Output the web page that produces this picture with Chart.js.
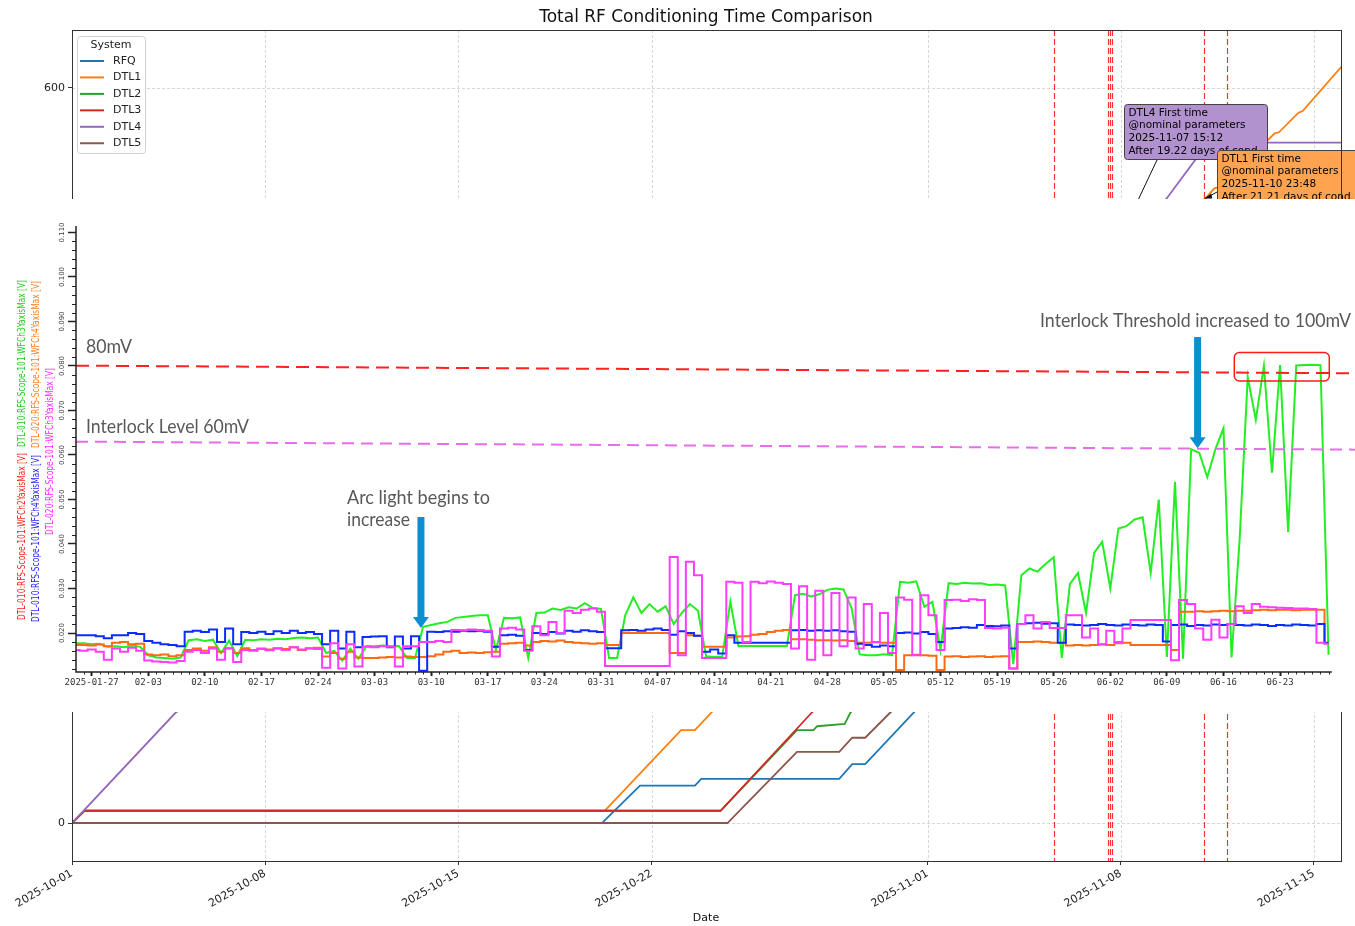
<!DOCTYPE html>
<html>
<head>
<meta charset="utf-8">
<title>Total RF Conditioning Time Comparison</title>
<script src="https://cdn.jsdelivr.net/npm/chart.js@4.4.1/dist/chart.umd.min.js"></script>
<style>
  html, body { margin: 0; padding: 0; background: #fff; }
  #wrap { position: relative; width: 1355px; height: 926px; overflow: hidden; }
  #outer { position: absolute; left: 0; top: 0; }
  #insetBox { position: absolute; left: 0; top: 199px; width: 1355px; height: 513px; background: #fff; }
</style>
</head>
<body>
<div id="wrap">
  <canvas id="outer" width="1355" height="926"></canvas>
  <div id="insetBox"><canvas id="inset" width="1355" height="513"></canvas></div>
</div>
<script>
/* ===== OUTER CHART DATA (days since 2025-10-01, conditioning hours) ===== */
const systems = ["RFQ", "DTL1", "DTL2", "DTL3", "DTL4", "DTL5"];
const systemColors = ["#1f77b4", "#ff7f0e", "#2ca02c", "#d62728", "#9467bd", "#8c564b"];

const rfqDays   = [0, 19.2, 20.58, 22.57, 22.8, 27.8, 28.27, 28.74, 32.5, 36, 40, 46];
const rfqHours  = [0, 0, 30.5, 30.5, 36, 36, 48, 48, 138, 190, 260, 330];
const dtl1Days  = [0, 0.45, 19.3, 22.07, 22.57, 26.5, 30, 34, 37.5, 40.99, 41.08, 41.39, 41.63, 42.33, 43.58, 43.73, 44.44, 44.59, 46.0];
const dtl1Hours = [0, 10, 10, 75.9, 75.9, 170, 250, 340, 420, 509, 510, 518, 519.4, 535.8, 563, 563.8, 579.8, 581.2, 617.4];
const dtl2Days  = [0, 0.45, 23.5, 26.27, 26.87, 27.0, 28.0, 28.2, 33, 40, 46];
const dtl2Hours = [0, 10, 10, 75.9, 75.9, 79, 81, 90, 200, 330, 420];
const dtl3Days  = [0, 0.45, 23.5, 26.8, 32, 38, 46];
const dtl3Hours = [0, 10, 10, 90, 210, 330, 450];
const dtl4Days  = [0, 3.75, 8, 15, 22, 30, 37.63, 39.67, 41.16, 46];
const dtl4Hours = [0, 90, 150, 230, 300, 380, 461, 510, 555.3, 555.3];
const dtl5Days  = [0, 23.75, 26.27, 27.8, 28.27, 28.74, 29.64, 35, 46];
const dtl5Hours = [0, 0, 58, 58, 69.6, 69.6, 90, 200, 380];

const outerDays  = [rfqDays, dtl1Days, dtl2Days, dtl3Days, dtl4Days, dtl5Days];
const outerHours = [rfqHours, dtl1Hours, dtl2Hours, dtl3Hours, dtl4Hours, dtl5Hours];

const outerTickDays  = [0, 7, 14, 21, 31, 38, 45];
const outerTickHours = [0, 200, 400, 600];
const markerDays     = [35.58, 37.55, 37.61, 37.67, 41.03, 41.86];

const noteDTL4 = ["DTL4 First time", "@nominal parameters", "2025-11-07 15:12", "After 19.22 days of cond."];
const noteDTL1 = ["DTL1 First time", "@nominal parameters", "2025-11-10 23:48", "After 21.21 days of cond."];
const notePoints = [[37.63, 461], [40.99, 509]];   // DTL4, DTL1
const noteBoxes  = [[38.12, 587], [41.49, 549.4]]; // box top-left (day, hours)

/* ===== INSET DATA (days since 2025-01-27, mV) ===== */
const insetDays = Array.from({ length: 156 }, (_, i) => i - 2);

const wfGreen = [
  17.7, 17.7, 17.5, 17.6, 16.9, 17.0, 16.8,
  17.2, 16.9, 15.0, 14.5, 14.4, 14.2, 14.5,
  18.4, 18.6, 18.2, 18.5, 15.5, 18.3, 14.8,
  18.5, 18.4, 18.6, 18.5, 18.7, 18.6, 18.9,
  19.0, 18.8, 19.0, 15.5, 16.0, 13.8, 16.5,
  14.2, 17.1, 17.0, 17.2, 17.0, 17.1, 14.4,
  14.4, 21.4, 21.8, 22.2, 22.5, 23.4, 23.6,
  23.8, 24.0, 24.0, 16.2, 23.4, 23.3, 23.5,
  14.4, 24.5, 24.6, 25.5, 25.2, 25.8, 25.5,
  26.7, 25.6, 25.4, 14.4, 14.4, 24.0, 28.0,
  24.5, 26.5, 24.8, 26.0, 22.0, 24.5, 26.5,
  25.0, 14.8, 14.6, 14.7, 27.0, 17.1, 17.1,
  17.1, 17.1, 17.1, 17.1, 17.1, 28.5, 28.8,
  28.2, 28.7, 29.7, 30.0, 29.8, 25.6, 15.2,
  15.0, 15.0, 15.2, 15.0, 31.5, 31.3, 31.6,
  25.9, 27.0, 16.2, 31.2, 31.0, 31.3, 31.1,
  31.2, 30.8, 30.9, 30.7, 13.0, 33.0, 34.5,
  33.8, 35.5, 37.0, 14.4, 31.0, 33.5, 24.5,
  38.0, 40.5, 30.0, 43.5, 44.0, 45.5, 46.0,
  33.5, 50.0, 14.6, 54.0, 14.2, 61.3, 60.5,
  55.0, 61.3, 66.0, 14.5, 41.0, 77.5, 67.9,
  80.0, 56.0, 80.2, 42.7, 80.1, 80.2, 80.3,
  80.2, 15.1
];
const wfBlue = [
  19.5, 19.5, 19.5, 19.3, 18.8, 19.5, 19.5,
  20.0, 19.8, 18.2, 17.8, 17.5, 17.3, 17.0,
  20.3, 20.5, 20.2, 20.8, 18.0, 21.0, 17.5,
  20.2, 20.0, 20.3, 19.8, 20.4, 20.0, 20.5,
  20.0, 20.2, 19.8, 17.5, 20.5, 16.5, 20.3,
  16.8, 19.1, 19.2, 19.3, 16.8, 19.2, 16.5,
  19.3, 11.5, 20.3, 20.2, 20.4, 20.3, 20.5,
  20.4, 20.5, 20.3, 16.9, 19.5, 19.6, 19.4,
  16.2, 20.0, 19.8, 20.2, 19.9, 20.5, 20.3,
  20.6, 20.4, 20.2, 16.6, 16.6, 20.6, 20.7,
  20.5, 20.8, 21.0, 20.7, 19.6, 20.4, 20.0,
  19.4, 15.8, 16.3, 15.4, 19.5, 17.8, 17.8,
  17.8, 17.8, 17.8, 17.8, 17.8, 20.6, 20.7,
  20.5, 20.6, 20.5, 20.6, 20.4, 20.3, 17.6,
  17.3, 16.9, 17.2, 17.0, 20.0, 20.1, 19.9,
  20.2, 19.8, 18.0, 21.0, 21.1, 21.3, 21.2,
  21.8, 21.6, 21.5, 21.7, 16.5, 22.0, 22.2,
  22.3, 22.1, 22.2, 17.8, 21.9, 21.8, 21.7,
  21.8, 22.0, 21.8, 21.7, 21.9, 21.8, 21.7,
  21.9, 21.8, 18.1, 21.8, 21.9, 21.6, 21.8,
  21.7, 21.9, 21.8, 22.0, 21.8, 21.7, 21.9,
  21.8, 21.6, 21.8, 21.7, 21.9, 21.8, 21.7,
  22.0, 17.8
];
const wfOrange = [
  17.3, 17.3, 17.2, 17.4, 17.0, 17.8, 18.0,
  17.5, 17.6, 15.2, 15.0, 15.2, 14.8, 15.0,
  16.2, 16.5, 16.0, 16.8, 15.8, 16.5, 15.5,
  16.6, 16.2, 16.5, 16.3, 16.6, 16.4, 16.8,
  16.2, 16.5, 16.7, 14.7, 15.5, 14.2, 15.8,
  14.5, 14.4, 14.4, 14.5, 14.6, 14.5, 14.7,
  14.6, 14.6, 14.8, 15.2, 15.8, 16.0, 15.5,
  15.6, 15.5, 15.7, 15.8, 17.6, 17.7, 17.8,
  17.2, 18.0, 18.2, 18.1, 18.3, 18.0, 17.8,
  17.7, 17.6, 17.7, 17.3, 17.3, 20.0, 20.0,
  20.0, 20.0, 20.0, 20.0, 15.5, 15.5, 19.5,
  19.4, 16.9, 16.9, 16.9, 19.0, 19.2, 19.3,
  19.6, 19.8, 20.2, 20.5, 20.7, 18.6, 18.6,
  18.5, 18.4, 18.4, 18.3, 18.4, 18.2, 17.8,
  17.8, 17.9, 17.8, 17.8, 11.7, 15.0, 15.1,
  15.0, 14.9, 11.7, 14.7, 14.8, 14.6, 14.7,
  14.8, 14.6, 14.7, 14.8, 12.0, 18.0, 18.0,
  18.1, 18.0, 17.8, 17.8, 17.2, 17.3, 17.2,
  17.3, 17.4, 17.3, 17.7, 17.8, 17.3, 17.3,
  17.3, 17.3, 17.3, 16.2, 24.8, 24.8, 24.9,
  24.8, 24.9, 25.0, 24.9, 25.0, 25.0, 25.1,
  25.2, 25.1, 25.2, 25.2, 25.1, 25.2, 25.2,
  25.2, 17.7
];
const wfMagenta = [
  16.2, 16.0, 16.3, 15.8, 14.0, 16.5, 15.8,
  16.7, 16.0, 13.8, 13.6, 13.5, 13.4, 13.7,
  15.8, 16.2, 15.5, 16.5, 14.0, 16.6, 13.5,
  16.2, 16.0, 16.4, 16.1, 16.5, 16.2, 16.8,
  16.3, 16.6, 16.4, 12.2, 17.7, 12.0, 17.5,
  12.5, 16.9, 16.8, 17.0, 16.9, 12.5, 17.0,
  17.0, 18.0, 18.0, 18.2, 18.0, 20.7, 20.6,
  20.8, 20.7, 20.5, 14.7, 21.0, 21.2, 20.8,
  16.0, 21.5, 19.5, 22.5, 20.0, 25.0, 24.5,
  25.2, 25.5, 24.8, 12.6, 12.6, 12.6, 12.6,
  12.6, 12.6, 12.6, 12.6, 37.1, 15.0, 36.0,
  33.0, 14.4, 14.4, 14.4, 31.5, 31.3, 18.0,
  31.5, 31.2, 31.6, 31.3, 31.0, 16.5, 30.5,
  14.0, 29.5, 15.0, 29.0, 17.0, 28.0, 16.5,
  26.5, 18.0, 24.5, 15.5, 28.0, 27.5, 15.0,
  28.5, 24.0, 16.2, 27.4, 27.5, 27.2, 27.6,
  27.4, 21.1, 21.0, 21.2, 12.0, 22.0, 24.0,
  21.0, 22.5, 21.1, 21.1, 24.0, 24.0, 19.0,
  21.0, 17.5, 20.5, 18.0, 21.0, 22.9, 22.9,
  22.9, 22.9, 22.9, 13.9, 27.4, 26.5, 21.0,
  18.5, 23.0, 19.0, 22.0, 26.0, 24.5, 26.5,
  25.9, 25.8, 25.7, 25.6, 25.5, 25.5, 25.4,
  17.8, 17.6
];

const insetRange   = [-1.94, 156.27];  // visible day span
const insetDataEnd = 153.4;
const level80      = [80.07, 78.36];   // drawn red dashed line, ends of span
const level60      = [63.0, 61.2];     // drawn violet dashed line
const insetTickDays = [0, 7, 14, 21, 28, 35, 42, 49, 56, 63, 70, 77, 84, 91, 98, 105, 112, 119, 126, 133, 140, 147];
const insetTickMv   = [20, 30, 40, 50, 60, 70, 80, 90, 100, 110];
const arrowDays = [40.73, 136.8];
const arrowFrom = [46.07, 86.5];
const arrowTo   = [21.1, 61.5];
const redBoxDays = [141.34, 153.09];
const redBoxMv   = [83.0, 76.63];

const insetTitles = [
  ["DTL-010:RFS-Scope-101:WFCh2YaxisMax [V]", "#ff1f1f", 22, 421],
  ["DTL-010:RFS-Scope-101:WFCh3YaxisMax [V]", "#22cc22", 22, 248],
  ["DTL-010:RFS-Scope-101:WFCh4YaxisMax [V]", "#1f1fff", 36, 423],
  ["DTL-020:RFS-Scope-101:WFCh4YaxisMax [V]", "#ff7f1f", 36, 249],
  ["DTL-020:RFS-Scope-101:WFCh3YaxisMax [V]", "#ff2bff", 50, 336]
];

/* ===== HELPERS ===== */
function dateLabel(base, v, full) {
  const s = new Date(base + v * 86400000).toISOString();
  return full ? s.slice(0, 10) : s.slice(5, 10);
}

function roundBox(ctx, x, y, w, h, r) {
  ctx.beginPath();
  ctx.moveTo(x + r, y);
  ctx.lineTo(x + w - r, y);
  ctx.arcTo(x + w, y, x + w, y + r, r);
  ctx.lineTo(x + w, y + h - r);
  ctx.arcTo(x + w, y + h, x + w - r, y + h, r);
  ctx.lineTo(x + r, y + h);
  ctx.arcTo(x, y + h, x, y + h - r, r);
  ctx.lineTo(x, y + r);
  ctx.arcTo(x, y, x + r, y, r);
  ctx.closePath();
}

function hline(ctx, x0, y0, x1, y1) {
  ctx.beginPath();
  ctx.moveTo(x0, y0);
  ctx.lineTo(x1, y1);
  ctx.stroke();
}

Chart.defaults.font.family = '"DejaVu Sans", sans-serif';

/* ===== OUTER DECORATIONS ===== */
const outerDecor = {
  id: "outerDecor",
  beforeDatasetsDraw(chart) {
    const { ctx, chartArea: a, scales: { x, y } } = chart;
    ctx.save();
    ctx.strokeStyle = "rgba(170,170,170,0.6)";
    ctx.lineWidth = 0.8;
    ctx.setLineDash([3, 2]);
    outerTickDays.forEach(d => {
      const px = Math.round(x.getPixelForValue(d)) + 0.5;
      hline(ctx, px, a.top, px, a.bottom);
    });
    outerTickHours.forEach(h => {
      const py = Math.round(y.getPixelForValue(h)) + 0.5;
      hline(ctx, a.left, py, a.right, py);
    });
    ctx.restore();
  },
  afterDatasetsDraw(chart) {
    const { ctx, chartArea: a, scales: { x, y } } = chart;
    ctx.save();

    // first-time markers
    ctx.strokeStyle = "rgba(255,0,0,0.8)";
    ctx.lineWidth = 1.2;
    ctx.setLineDash([6, 3]);
    markerDays.forEach(d => {
      const px = Math.round(x.getPixelForValue(d)) + 0.5;
      hline(ctx, px, a.top, px, a.bottom);
    });
    ctx.setLineDash([]);

    // annotation arrows
    ctx.strokeStyle = "#111";
    ctx.lineWidth = 1;
    const p4 = [x.getPixelForValue(notePoints[0][0]), y.getPixelForValue(notePoints[0][1])];
    hline(ctx, 1157, 160, p4[0], p4[1]);
    const p1 = [x.getPixelForValue(notePoints[1][0]), y.getPixelForValue(notePoints[1][1])];
    hline(ctx, 1217, 192, p1[0] + 2, p1[1] - 1);
    ctx.fillStyle = "#111";
    ctx.beginPath();
    ctx.moveTo(p1[0] + 1, p1[1] - 1);
    ctx.lineTo(p1[0] + 8, p1[1] - 6);
    ctx.lineTo(p1[0] + 9, p1[1] - 1);
    ctx.closePath();
    ctx.fill();

    // annotation boxes
    const boxes = [
      [noteDTL4, "rgba(148,103,189,0.72)", 143, 55],
      [noteDTL1, "rgba(255,127,14,0.72)", 146, 62]
    ];
    boxes.forEach((b, i) => {
      const bx = Math.round(x.getPixelForValue(noteBoxes[i][0])) + 0.5;
      const by = Math.round(y.getPixelForValue(noteBoxes[i][1])) + 0.5;
      ctx.fillStyle = "#fff";
      roundBox(ctx, bx, by, b[2], b[3], 3);
      ctx.fill();
      ctx.fillStyle = b[1];
      ctx.fill();
      ctx.strokeStyle = "#444";
      ctx.stroke();
      ctx.fillStyle = "#000";
      ctx.font = '10.5px "DejaVu Sans"';
      ctx.textAlign = "left";
      ctx.textBaseline = "middle";
      b[0].forEach((t, k) => ctx.fillText(t, bx + 4, by + 8.5 + k * 12.6, 140));
    });

    // frame
    ctx.strokeStyle = "#333";
    ctx.lineWidth = 1;
    ctx.strokeRect(Math.round(a.left) + 0.5, Math.round(a.top) + 0.5, Math.round(a.right - a.left), Math.round(a.bottom - a.top));

    // legend
    const lx = 77.5, ly = 36.5;
    ctx.fillStyle = "rgba(255,255,255,0.85)";
    roundBox(ctx, lx, ly, 68, 117, 3);
    ctx.fill();
    ctx.strokeStyle = "#d0d0d0";
    ctx.stroke();
    ctx.fillStyle = "#222";
    ctx.font = '11px "DejaVu Sans"';
    ctx.textAlign = "center";
    ctx.textBaseline = "middle";
    ctx.fillText("System", 111, 45);
    ctx.textAlign = "left";
    systems.forEach((name, i) => {
      const yy = 61 + i * 16.45;
      ctx.strokeStyle = systemColors[i];
      ctx.lineWidth = 2;
      hline(ctx, 80, yy, 104, yy);
      ctx.fillText(name, 113, yy);
    });
    ctx.restore();
  },
  afterDraw(chart) {
    const { ctx } = chart;
    ctx.save();
    ctx.fillStyle = "#111";
    ctx.textAlign = "center";
    ctx.textBaseline = "middle";
    ctx.font = '17px "DejaVu Sans"';
    ctx.fillText("Total RF Conditioning Time Comparison", 706, 18, 344);
    ctx.font = '11px "DejaVu Sans"';
    ctx.fillText("Date", 706, 918);
    ctx.restore();
  }
};

/* ===== OUTER CHART ===== */
new Chart(document.getElementById("outer"), {
  type: "line",
  data: {
    datasets: systems.map((name, i) => ({
      label: name,
      data: outerDays[i].map((d, k) => ({ x: d, y: outerHours[i][k] })),
      borderColor: systemColors[i],
      borderWidth: 1.8,
      pointRadius: 0,
      tension: 0,
      fill: false,
      order: systems.length - 1 - i
    }))
  },
  options: {
    responsive: false,
    animation: false,
    layout: { padding: { left: 0, right: 14, top: 30, bottom: 0 } },
    plugins: { legend: { display: false }, tooltip: { enabled: false } },
    scales: {
      x: {
        type: "linear",
        min: 0,
        max: 45.98,
        afterBuildTicks: s => { s.ticks = outerTickDays.map(v => ({ value: v })); },
        afterFit: s => { s.height = 65; },
        grid: { drawOnChartArea: false, tickLength: 4, tickColor: "#333" },
        border: { color: "#333" },
        ticks: {
          autoSkip: false,
          minRotation: 30,
          maxRotation: 30,
          padding: 2,
          color: "#222",
          font: { size: 11 },
          callback: v => dateLabel(Date.UTC(2025, 9, 1), v, true)
        }
      },
      y: {
        min: -31.0,
        max: 647.3,
        afterBuildTicks: s => { s.ticks = outerTickHours.map(v => ({ value: v })); },
        afterFit: s => { s.width = 72; },
        grid: { drawOnChartArea: false, tickLength: 4, tickColor: "#333" },
        border: { color: "#333" },
        ticks: { padding: 3, color: "#222", font: { size: 11 } }
      }
    }
  },
  plugins: [outerDecor]
});

/* ===== INSET DECORATIONS ===== */
function drawArrow(ctx, px, yTop, yTip) {
  ctx.fillStyle = "#0b8fd0";
  ctx.fillRect(px - 3.5, yTop, 7, yTip - 10 - yTop);
  ctx.beginPath();
  ctx.moveTo(px - 8, yTip - 11);
  ctx.lineTo(px + 8, yTip - 11);
  ctx.lineTo(px, yTip);
  ctx.closePath();
  ctx.fill();
}

const insetDecor = {
  id: "insetDecor",
  afterDatasetsDraw(chart) {
    const { ctx, scales: { x, y } } = chart;
    ctx.save();

    // highlight box
    const bx0 = x.getPixelForValue(redBoxDays[0]), bx1 = x.getPixelForValue(redBoxDays[1]);
    const by0 = y.getPixelForValue(redBoxMv[0]), by1 = y.getPixelForValue(redBoxMv[1]);
    ctx.strokeStyle = "#ff1a1a";
    ctx.lineWidth = 1.5;
    roundBox(ctx, bx0, by0, bx1 - bx0, by1 - by0, 5);
    ctx.stroke();

    // arrows
    arrowDays.forEach((d, i) => {
      drawArrow(ctx, x.getPixelForValue(d), y.getPixelForValue(arrowFrom[i]), y.getPixelForValue(arrowTo[i]));
    });

    // callout texts
    ctx.fillStyle = "#595959";
    ctx.font = '19px Lato, "Open Sans", sans-serif';
    ctx.textAlign = "left";
    ctx.textBaseline = "alphabetic";
    ctx.fillText("80mV", 86, 154, 46);
    ctx.fillText("Interlock Level 60mV", 86, 234, 163);
    ctx.fillText("Arc light begins to", 347, 305, 143);
    ctx.fillText("increase", 347, 327, 63);
    ctx.fillText("Interlock Threshold increased to 100mV", 1040, 128, 311);
    ctx.restore();
  },
  afterDraw(chart) {
    const { ctx, chartArea: a, scales: { x, y } } = chart;
    ctx.save();
    ctx.strokeStyle = "#222";
    ctx.lineWidth = 1.5;
    const xEnd = x.getPixelForValue(insetDataEnd);
    ctx.beginPath();
    ctx.moveTo(a.left, a.top - 2);
    ctx.lineTo(a.left, a.bottom);
    ctx.lineTo(xEnd, a.bottom);
    ctx.stroke();

    // minor ticks
    ctx.lineWidth = 1;
    for (let d = -1; d <= 153; d++) {
      if (d % 7 === 0) continue;
      const px = Math.round(x.getPixelForValue(d)) + 0.5;
      hline(ctx, px, a.bottom, px, a.bottom + 2.5);
    }
    for (let v = 12; v <= 110; v += 2) {
      if (v % 10 === 0) continue;
      const py = Math.round(y.getPixelForValue(v)) + 0.5;
      hline(ctx, a.left - 4, py, a.left, py);
    }

    // rotated y tick labels
    ctx.fillStyle = "#444";
    ctx.font = '7px "DejaVu Sans"';
    ctx.textAlign = "center";
    ctx.textBaseline = "middle";
    insetTickMv.forEach(v => {
      ctx.save();
      ctx.translate(62, y.getPixelForValue(v));
      ctx.rotate(-Math.PI / 2);
      ctx.fillText((v / 1000).toFixed(3), 0, 0);
      ctx.restore();
    });

    // coloured axis titles
    ctx.font = '10px "Liberation Sans Narrow", "DejaVu Sans Condensed", "Liberation Sans", sans-serif';
    ctx.textAlign = "left";
    insetTitles.forEach(t => {
      ctx.save();
      ctx.fillStyle = t[1];
      ctx.translate(t[2], t[3]);
      ctx.rotate(-Math.PI / 2);
      ctx.fillText(t[0], 0, 0, 167);
      ctx.restore();
    });
    ctx.restore();
  }
};

/* ===== INSET CHART ===== */
// green ramps continuously at the end, the other channels move in steps
const insetSeries = [
  { values: wfGreen, color: "#22ee22", order: 4, stepped: false },
  { values: wfOrange, color: "#ff6a10", order: 3, stepped: "middle" },
  { values: wfBlue, color: "#0a2cff", order: 2, stepped: "middle" },
  { values: wfMagenta, color: "#ff3cff", order: 1, stepped: "middle" }
];

new Chart(document.getElementById("inset"), {
  type: "line",
  data: {
    datasets: insetSeries.map(s => ({
      data: insetDays.map((d, i) => ({ x: d, y: s.values[i] })),
      borderColor: s.color,
      borderWidth: 2,
      pointRadius: 0,
      tension: 0,
      stepped: s.stepped,
      fill: false,
      order: s.order
    })).concat([
      {
        data: insetRange.map((d, i) => ({ x: d, y: level80[i] })),
        borderColor: "#ff2020",
        borderWidth: 2,
        borderDash: [13, 7],
        pointRadius: 0,
        order: 0
      },
      {
        data: insetRange.map((d, i) => ({ x: d, y: level60[i] })),
        borderColor: "#e86ee8",
        borderWidth: 2,
        borderDash: [12, 7],
        pointRadius: 0,
        order: 0
      }
    ])
  },
  options: {
    responsive: false,
    animation: false,
    layout: { padding: { left: 0, right: 0, top: 29, bottom: 0 } },
    plugins: { legend: { display: false }, tooltip: { enabled: false } },
    scales: {
      x: {
        type: "linear",
        min: insetRange[0],
        max: insetRange[1],
        afterBuildTicks: s => { s.ticks = insetTickDays.map(v => ({ value: v })); },
        afterFit: s => { s.height = 40; },
        grid: { drawOnChartArea: false, tickLength: 4, tickWidth: 2, tickColor: "#222" },
        border: { display: false },
        ticks: {
          autoSkip: false,
          maxRotation: 0,
          padding: 1,
          color: "#333",
          font: { family: '"DejaVu Sans Mono", monospace', size: 9 },
          callback: v => dateLabel(Date.UTC(2025, 0, 27), v, v === 0)
        }
      },
      y: {
        min: 11.24,
        max: 111.0,
        afterBuildTicks: s => { s.ticks = insetTickMv.map(v => ({ value: v })); },
        afterFit: s => { s.width = 76; },
        grid: { drawOnChartArea: false, tickLength: 8, tickWidth: 1.5, tickColor: "#222" },
        border: { display: false },
        ticks: { display: false }
      }
    }
  },
  plugins: [insetDecor]
});
</script>
</body>
</html>
